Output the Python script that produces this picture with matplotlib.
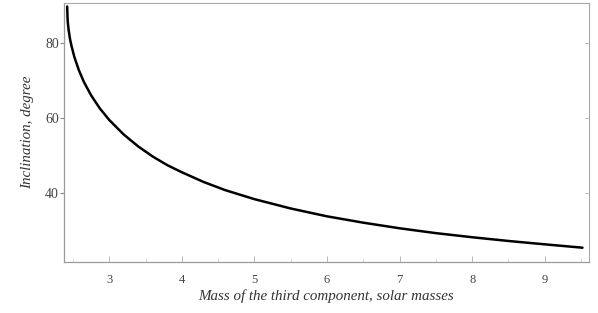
import matplotlib
matplotlib.use("Agg")
import matplotlib.pyplot as plt
from matplotlib.ticker import MultipleLocator

# mass of third component (solar masses) and inclination (degrees)
mass = [2.420, 2.425, 2.430, 2.440, 2.460, 2.480, 2.520, 2.580, 2.650, 2.750,
        2.870, 3.000, 3.200, 3.400, 3.600, 3.800, 4.000, 4.300, 4.600, 5.000,
        5.500, 6.000, 6.500, 7.000, 7.500, 8.000, 8.500, 9.000, 9.520]
incl = [89.9, 86.7, 85.4, 83.6, 81.1, 79.3, 76.3, 72.9, 69.7, 66.1,
        62.6, 59.5, 55.6, 52.4, 49.7, 47.4, 45.5, 42.9, 40.7, 38.3,
        35.8, 33.7, 32.0, 30.5, 29.2, 28.1, 27.1, 26.2, 25.3]

xticks = [3, 4, 5, 6, 7, 8, 9]
yticks = [40, 60, 80]

plt.rcParams["font.family"] = ["Liberation Serif", "DejaVu Serif"]

fig = plt.figure(figsize=(5.98, 3.13), dpi=100)
ax = fig.add_axes([0.107, 0.1645, 0.878, 0.8255])

ax.plot(mass, incl, color="black", lw=1.8, solid_capstyle="round")

ax.set_xlim(2.376, 9.61)
ax.set_ylim(21.6, 90.8)

ax.set_xticks(xticks)
ax.set_yticks(yticks)
ax.xaxis.set_minor_locator(MultipleLocator(0.5))
ax.tick_params(axis="x", which="major", direction="in", length=4, width=0.6,
               color="#b0b0b0", labelsize=9, labelcolor="#444444", pad=9)
ax.tick_params(axis="x", which="minor", direction="in", length=2, width=0.5,
               color="#c8c8c8")
ax.tick_params(axis="y", which="major", direction="out", length=3, width=0.8,
               color="#888888", labelsize=10, labelcolor="#444444", pad=0.5)

for side in ["left", "bottom"]:
    ax.spines[side].set_color("#9a9a9a")
    ax.spines[side].set_linewidth(0.9)
for side in ["top", "right"]:
    ax.spines[side].set_color("#a8a8a8")
    ax.spines[side].set_linewidth(0.8)

# inner ticks on the right edge
for y in yticks:
    ax.plot([9.61 - 0.06, 9.61], [y, y], color="#b0b0b0", lw=0.6, clip_on=False)

ax.set_xlabel("Mass of the third component, solar masses", fontsize=10.8,
              style="italic", color="#333333", labelpad=2)
ax.set_ylabel("Inclination, degree", fontsize=10.8, style="italic",
              color="#333333", labelpad=8)

fig.savefig("out.png", dpi=100)
